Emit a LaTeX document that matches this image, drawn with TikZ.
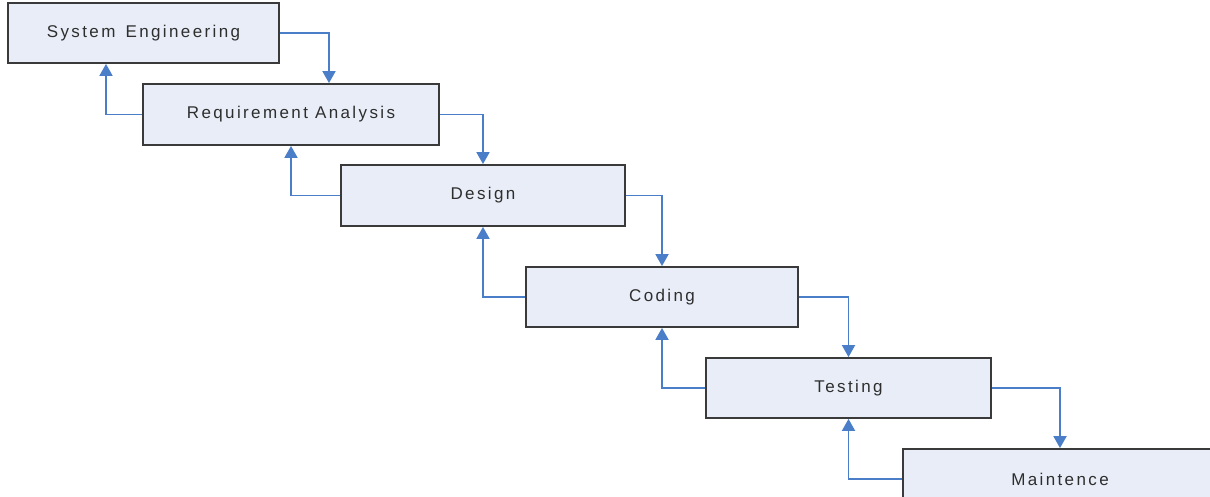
\documentclass[tikz,border=0pt]{standalone}
\usepackage{fontspec}
\newfontfamily\stagefont{Liberation Sans}[LetterSpace=14]
\definecolor{wfbox}{HTML}{E8EDF7}
\definecolor{wfedge}{HTML}{3A3A3A}
\definecolor{wfblue}{HTML}{4A7EC8}
\definecolor{wftext}{HTML}{2E2E2E}
\usepackage{tikz}
\usetikzlibrary{arrows.meta, positioning}

\begin{document}
\begin{tikzpicture}[x=1pt, y=-1pt,
  stage/.style={draw=wfedge, line width=1.8pt, fill=wfbox, minimum height=60pt,
                inner sep=0pt, font=\stagefont\fontsize{17}{20}\selectfont, text=wftext},
  flow/.style={-{Triangle[length=12pt, width=13pt]}, wfblue, line width=1.8pt}
]
  \useasboundingbox (0,0) rectangle (1210,497);
  \clip (0,0) rectangle (1210,497);

  % Stages
  \node[stage, minimum width=271pt] (se) at (143.5,33) {System\hspace{3pt} Engineering};
  \node[stage, minimum width=296pt, minimum height=61pt] (ra) at (291,114.5) {Requirement Analysis};
  \node[stage, minimum width=284pt, minimum height=61pt] (ds) at (483,195.5) {Design};
  \node[stage, minimum width=272pt] (cd) at (662,297) {Coding};
  \node[stage, minimum width=285pt] (ts) at (848.5,388) {Testing};
  \node[stage, minimum width=314pt] (mt) at (1060,479) {Maintence};

  % Arrows down
  \draw[flow] (se.east) -| ([xshift=38pt]ra.north);
  \foreach \a/\b in {ra/ds, ds/cd, cd/ts, ts/mt} \draw[flow] (\a.east) -| (\b.north);

  % Arrows back
  \draw[flow] (ra.west) -| ([xshift=-37.5pt]se.south);
  \foreach \a/\b in {ds/ra, cd/ds, ts/cd, mt/ts} \draw[flow] (\a.west) -| (\b.south);
\end{tikzpicture}
\end{document}
